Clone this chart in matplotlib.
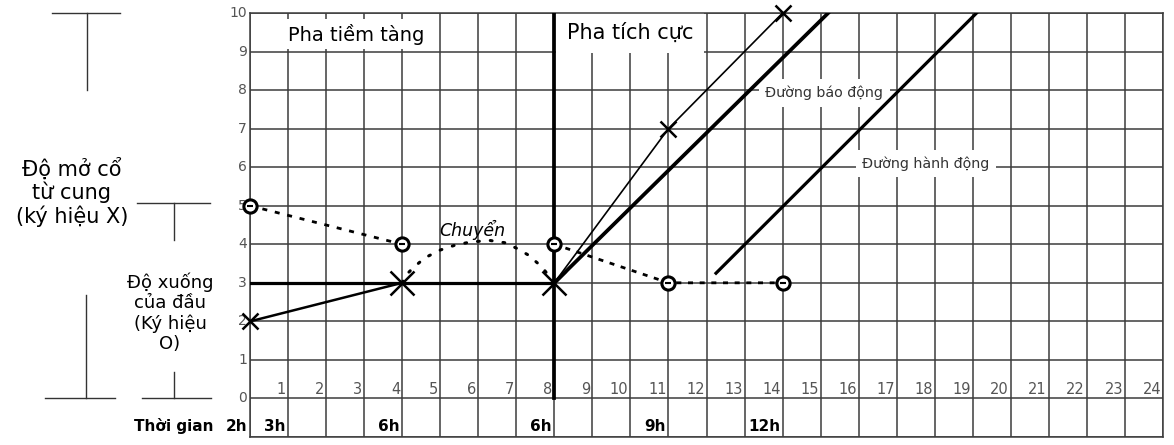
import matplotlib.pyplot as plt
from matplotlib.lines import Line2D

W, H = 1174, 445

# truc
hours = list(range(1, 25))
levels = list(range(0, 11))
time_marks = [0, 1, 4, 8, 11, 14]
time_labels = ['2h', '3h', '6h', '6h', '9h', '12h']

phase_split = 8      # ranh gioi pha tiem tang / pha tich cuc
threshold_cm = 3

# do mo co tu cung (X)
latent_x = [0, 4]
latent_y = [2, 3]
active_x = [8, 11, 14]
active_y = [3, 7, 10]
big_x_x = [4, 8]
big_x_y = [3, 3]
small_x_x = [0, 11, 14]
small_x_y = [2, 7, 10]

# duong bao dong / hanh dong
alert_x = [8, 15.2]
alert_y = [3, 10]
action_x = [12.25, 19.1]
action_y = [3.25, 10]

# do xuong cua dau (O)
head1_x = [0, 4]
head1_y = [5, 4]
head2_x = [8, 11, 14]
head2_y = [4, 3, 3]

# duong chuyen
transfer_x = [4, 4.1, 4.3, 4.6, 5.0, 5.4, 5.8, 6.3, 6.7, 7.0, 7.3, 7.55, 7.73, 8]
transfer_y = [3, 3.2, 3.4, 3.65, 3.85, 3.98, 4.06, 4.1, 4.04, 3.9, 3.73, 3.52, 3.34, 3]

plt.rcParams['font.family'] = ['DejaVu Sans']

fig = plt.figure(figsize=(W / 100, H / 100), dpi=100)
ax = fig.add_axes([250 / W, 8 / H, 913 / W, 424 / H])
ax.set_xlim(0, 24)
ax.set_ylim(-1, 10)

grid_c = '#3c3c3c'
ax.set_xticks(range(0, 25))
ax.set_yticks(range(-1, 11))
ax.grid(True, color=grid_c, lw=1.1)
ax.set_axisbelow(True)
ax.tick_params(length=0, labelbottom=False, labelleft=False)
for s in ax.spines.values():
    s.set_color(grid_c)
    s.set_linewidth(1.1)

# nhan truc
for v in levels:
    ax.text(-0.08, v, str(v), ha='right', va='center', fontsize=10,
            color='#555555', clip_on=False)
for h in hours:
    ax.text(h - 0.05, 0.04, str(h), ha='right', va='bottom', fontsize=10.5,
            color='#555555')
for m, lab in zip(time_marks, time_labels):
    ax.text(m - 0.06, -0.93, lab, ha='right', va='bottom', fontsize=11,
            fontweight='bold', clip_on=False)
ax.text(-0.97, -0.93, 'Thời gian', ha='right', va='bottom', fontsize=11,
        fontweight='bold', clip_on=False)

# nhan pha
ax.text(1.0, 9.45, 'Pha tiềm tàng', ha='left', va='center', fontsize=14,
        zorder=2, bbox=dict(boxstyle='square,pad=0.22', fc='white', ec='none'))
ax.text(8.33, 9.5, 'Pha tích cực', ha='left', va='center', fontsize=15,
        zorder=2, bbox=dict(boxstyle='square,pad=0.5', fc='white', ec='none'))
ax.text(13.55, 7.92, 'Đường báo động', ha='left', va='center', fontsize=10.3,
        color='#333333', zorder=2,
        bbox=dict(boxstyle='square,pad=0.45', fc='white', ec='none'))
ax.text(16.1, 6.1, 'Đường hành động', ha='left', va='center', fontsize=10.3,
        color='#333333', zorder=2,
        bbox=dict(boxstyle='square,pad=0.45', fc='white', ec='none'))
ax.text(4.98, 4.38, 'Chuyển', ha='left', va='center', fontsize=12.5,
        style='italic', fontweight='medium', zorder=2)

# duong moc
ax.plot([0, phase_split], [threshold_cm, threshold_cm], color='black', lw=2.3, zorder=3)
ax.plot([phase_split, phase_split], [0, 10], color='black', lw=2.7, zorder=3)

ax.plot(alert_x, alert_y, color='black', lw=2.7, zorder=3)
ax.plot(action_x, action_y, color='black', lw=2.3, zorder=3)

ax.plot(latent_x, latent_y, color='black', lw=1.8, zorder=3)
ax.plot(active_x, active_y, color='black', lw=1.2, zorder=3)

ax.plot(transfer_x, transfer_y, color='black', lw=2.2,
        linestyle=(0, (0.6, 3.6)), dash_capstyle='round', zorder=3)
ax.plot(head1_x, head1_y, color='black', lw=2.0, linestyle=(0, (1.8, 2.8)), zorder=3)
ax.plot(head2_x, head2_y, color='black', lw=2.0, linestyle=(0, (1.8, 2.4)), zorder=3)

ax.plot(big_x_x, big_x_y, 'x', color='black', ms=17, mew=1.8, zorder=5, clip_on=False)
ax.plot(small_x_x, small_x_y, 'x', color='black', ms=11, mew=1.8, zorder=5, clip_on=False)

hx = head1_x + head2_x
hy = head1_y + head2_y
ax.plot(hx, hy, 'o', ms=9.5, mfc='white', mec='black', mew=2.2, zorder=5, clip_on=False)
ax.plot(hx, hy, '_', ms=5, color='black', mew=1.5, zorder=6, clip_on=False)


# phan ben trai (toa do pixel)
def px(x, y):
    return x / W, 1 - y / H


def seg(x0, y0, x1, y1):
    a, b = px(x0, y0)
    c, d = px(x1, y1)
    fig.add_artist(Line2D([a, c], [b, d], color='#333333', lw=1.0))


seg(52, 13, 120, 13)
seg(87, 13, 87, 90)
seg(137, 203, 210, 203)
seg(174, 203, 174, 240)
seg(86, 295, 86, 398)
seg(45, 398, 115, 398)
seg(174, 372, 174, 398)
seg(142, 398, 211, 398)

fx, fy = px(72, 192)
fig.text(fx, fy, 'Độ mở cổ\ntừ cung\n(ký hiệu X)', ha='center', va='center',
         multialignment='center', fontsize=15, linespacing=1.12)
fx, fy = px(170, 313)
fig.text(fx, fy, 'Độ xuống\ncủa đầu\n(Ký hiệu\nO)', ha='center', va='center',
         multialignment='center', fontsize=13, linespacing=1.15)

fig.savefig('out.png', dpi=100)
